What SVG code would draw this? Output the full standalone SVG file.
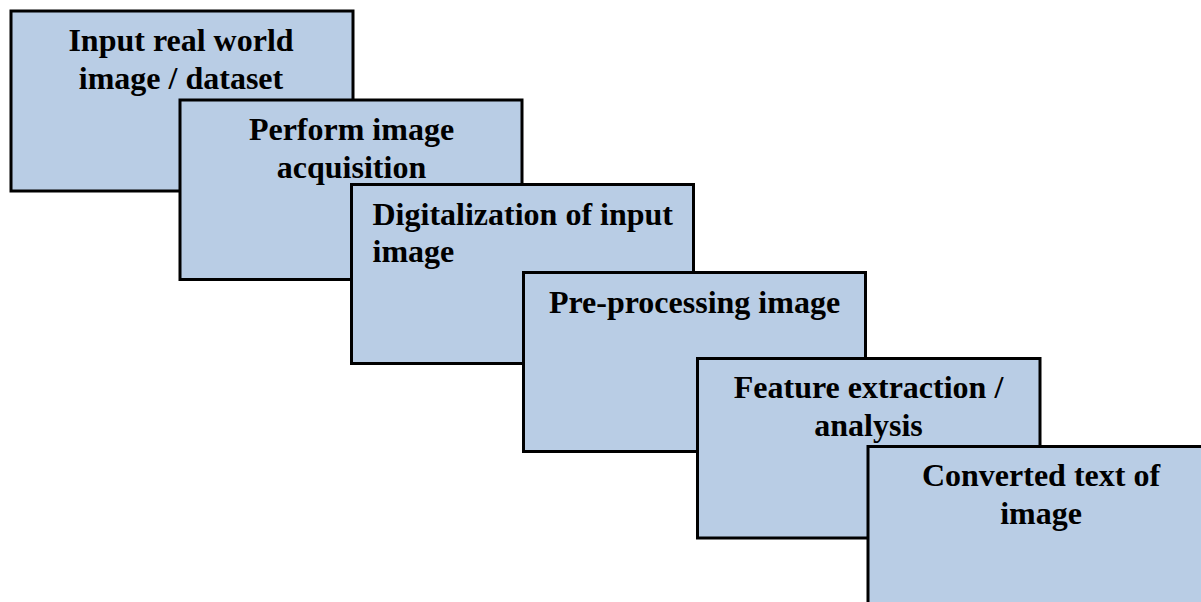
<svg xmlns="http://www.w3.org/2000/svg" width="1201" height="602" viewBox="0 0 1201 602">
  <style>
    .box { fill: #B9CDE5; stroke: #000000; stroke-width: 3; }
    .lbl { font-family: "Liberation Serif", "Times New Roman", serif; font-weight: bold; font-size: 32px; fill: #000000; }
    .mid { text-anchor: middle; }
  </style>
  <rect width="1201" height="602" fill="#FFFFFF"/>

  <!-- Stacked process steps, each overlapping the previous one -->
  <g id="step1">
    <rect class="box" x="11" y="11" width="342" height="180"/>
    <text class="lbl mid" x="181" y="51">Input real world</text>
    <text class="lbl mid" x="181" y="89">image / dataset</text>
  </g>

  <g id="step2">
    <rect class="box" x="180" y="100" width="342" height="179.5"/>
    <text class="lbl mid" x="351.5" y="140">Perform image</text>
    <text class="lbl mid" x="351.5" y="178">acquisition</text>
  </g>

  <g id="step3">
    <rect class="box" x="351.5" y="184.5" width="342" height="179"/>
    <text class="lbl" x="372.5" y="224.5">Digitalization of input</text>
    <text class="lbl" x="372.5" y="262">image</text>
  </g>

  <g id="step4">
    <rect class="box" x="523.5" y="272.5" width="342" height="179"/>
    <text class="lbl mid" x="694.5" y="313">Pre-processing image</text>
  </g>

  <g id="step5">
    <rect class="box" x="697.5" y="358.5" width="342.5" height="179.5"/>
    <text class="lbl mid" x="868.5" y="398">Feature extraction /</text>
    <text class="lbl mid" x="868.5" y="436">analysis</text>
  </g>

  <g id="step6">
    <rect class="box" x="868" y="446.5" width="342" height="180"/>
    <text class="lbl mid" x="1041" y="486">Converted text of</text>
    <text class="lbl mid" x="1041" y="524">image</text>
  </g>
</svg>
